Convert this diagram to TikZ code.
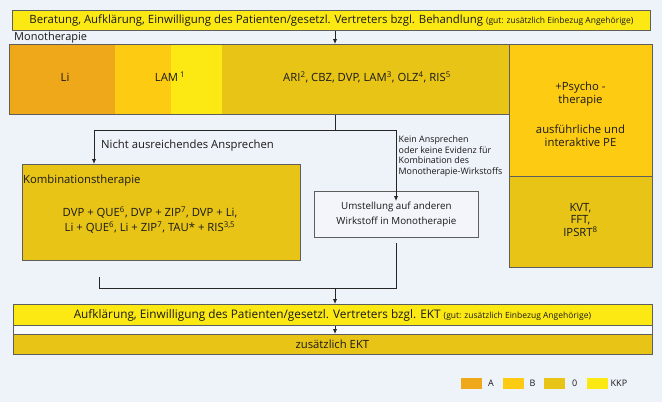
\documentclass[tikz,border=0pt]{standalone}
\usepackage{fontspec}
\setmainfont{Open Sans}
\usetikzlibrary{arrows.meta}
\definecolor{bgc}{HTML}{EEF2F9}
\definecolor{colA}{HTML}{F0A81B}
\definecolor{colB}{HTML}{FDCB12}
\definecolor{colO}{HTML}{E8C417}
\definecolor{colK}{HTML}{FCE913}
\definecolor{bord}{HTML}{5E5E5E}
\definecolor{lite}{HTML}{F3F5FA}
\definecolor{strip}{HTML}{F9FBFF}
\newcommand{\fs}[1]{\fontsize{#1}{#1}\selectfont}
\newcommand{\gutnote}{{\fs{8.5}(gut: zusätzlich Einbezug Angehörige)}}
\begin{document}
\begin{tikzpicture}[x=1pt,y=-1pt,
  every node/.style={font=\fs{11.3}, inner sep=0pt, text=black!90},
  box/.style={draw=bord, line width=0.8pt, fill=#1, anchor=north west},
  plain/.style={draw=none, fill=#1, anchor=north west},
  conn/.style={draw=black!85, line width=0.9pt},
  arr/.style={conn, -{Latex[length=5pt,width=4.5pt]}},
  small/.style={font=\fs{8.9}},
  leg/.style={draw=none, fill=#1, minimum width=21, minimum height=11, anchor=north west}
]
\useasboundingbox[fill=bgc] (0,0) rectangle (662,402);

% top box
\node[box=colK, minimum width=638, minimum height=20, font=\fs{11.4}] (top) at (12,10)
  {Beratung, Aufklärung, Einwilligung des Patienten/gesetzl. Vertreters bzgl. Behandlung \gutnote};

\node[anchor=west, font=\fs{11}] (monolbl) at (14,37.5) {Monotherapie};

% monotherapy segments
\node[plain=colA, minimum width=106, minimum height=70] (li) at (9,44) {};
\node[plain=colB, minimum width=56, minimum height=70] (lamB) at (115,44) {};
\node[plain=colK, minimum width=51, minimum height=70] (lamK) at (171,44) {};
\node[plain=colO, minimum width=287, minimum height=70] (ari) at (222,44) {};
\node[draw=bord, line width=0.8pt, minimum width=500, minimum height=70, anchor=north west] (mono) at (9,44) {};
\node (litext) at (65,77) {Li};
\node (lamtext) at (170,77) {LAM\,\textsuperscript{1}};
\node (aritext) at (367,77) {ARI\textsuperscript{2}, CBZ, DVP, LAM\textsuperscript{3}, OLZ\textsuperscript{4}, RIS\textsuperscript{5}};

% psychotherapy
\node[box=colB, minimum width=143, minimum height=132] (psyA) at (509,44) {};
\node[box=colO, minimum width=143, minimum height=91] (psyB) at (509,176) {};
\node[align=center] (psyT1) at (580.5,94) {+Psycho -\\[2pt]therapie};
\node[align=center] (psyT2) at (580.5,136) {ausführliche und\\[2pt]interaktive PE};
\node[align=center] (psyT3) at (580.5,220) {KVT,\\[1pt]FFT,\\[1pt]IPSRT\textsuperscript{8}};

% split
\coordinate (split) at (335,130);
\coordinate (sl) at (94,130);
\coordinate (sr) at (396,130);
\draw[conn] (split |- mono.south) -- (split);
\draw[conn] (sl) -- (sr);

% kombination
\node[box=colO, minimum width=278, minimum height=96] (kombi) at (22,164) {};
\node[anchor=west] (kombititle) at (23,181) {Kombinationstherapie};
\node[align=center] (kombitext) at (150,220)
  {DVP + QUE\textsuperscript{6}, DVP + ZIP\textsuperscript{7}, DVP + Li,\\[3pt]
   Li + QUE\textsuperscript{6}, Li + ZIP\textsuperscript{7}, TAU* + RIS\textsuperscript{3,5}};
\draw[arr] (sl) -- (sl |- kombi.north);
\node[anchor=west] (nichtlbl) at (101,146) {Nicht ausreichendes Ansprechen};

% umstellung
\node[box=lite, minimum width=164, minimum height=46, align=center, font=\fs{9.8}] (umst) at (314,191)
  {Umstellung auf anderen\\[4pt]Wirkstoff in Monotherapie};
\draw[arr] (sr) -- ([yshift=-10pt]sr |- umst.north);
\node[small, align=left, anchor=north west] (keinlbl) at (398.5,135.5)
  {Kein Ansprechen\\[1.3pt]oder keine Evidenz für\\[1.3pt]Kombination des\\[1.3pt]Monotherapie-Wirkstoffs};

% join
\coordinate (jl) at (99,277);
\coordinate (jlb) at (99,288);
\coordinate (jr) at (396,288);
\coordinate (jrt) at (396,243);
\coordinate (jm) at (335,288);
\draw[conn] (jl) -- (jlb) -- (jr) -- (jrt);

% EKT
\node[box=strip, minimum width=639, minimum height=50] (ektouter) at (12.5,304) {};
\node[box=colK, minimum width=639, minimum height=21, font=\fs{11.8}] (ekt) at (12.5,304)
  {Aufklärung, Einwilligung des Patienten/gesetzl. Vertreters bzgl. EKT \gutnote};
\node[box=colO, minimum width=639, minimum height=20, font=\fs{11.3}] (zekt) at (12.5,334) {zusätzlich EKT};
\draw[arr] (jm) -- (jm |- ekt.north);
\draw[arr] (ekt.south -| jm) -- (zekt.north -| jm);
\draw[arr] (top.south -| jm) -- (jm |- mono.north);

% legend
\node[leg=colA] (legA) at (461,378) {};
\node[font=\fs{9}, anchor=west] (legAt) at (488,383.5) {A};
\node[leg=colB] (legB) at (502.5,378) {};
\node[font=\fs{9}, anchor=west] (legBt) at (529.5,383.5) {B};
\node[leg=colO] (legO) at (543.5,378) {};
\node[font=\fs{9}, anchor=west] (legOt) at (572,383.5) {0};
\node[leg=colK] (legK) at (587,378) {};
\node[font=\fs{9}, anchor=west] (legKt) at (610.5,383.5) {KKP};
\end{tikzpicture}
\end{document}
